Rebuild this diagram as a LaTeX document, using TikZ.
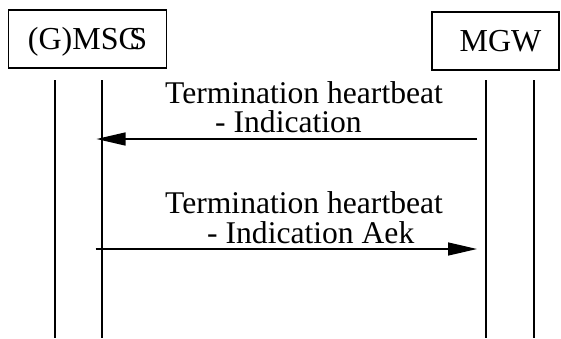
\documentclass[tikz,border=0pt]{standalone}
\usepackage{fontspec}
\setmainfont{Liberation Serif}
\usetikzlibrary{arrows.meta,positioning,calc}
\tikzset{
  entity/.style={draw,line width=1.6pt,inner sep=0pt,minimum height=58pt,
    text height=21pt,text depth=0pt,font=\fontsize{32}{32}\selectfont},
  lifeline/.style={line width=1.6pt},
  msg/.style={line width=1.4pt,-{Triangle[length=29pt,width=13pt]}},
  msgtext/.style={anchor=base west,inner sep=0pt,font=\fontsize{31.6}{31.6}\selectfont}
}
\begin{document}
\begin{tikzpicture}[x=1pt,y=-1pt]
\useasboundingbox (0,0) rectangle (561,338);
% entities
\node[entity,minimum width=158pt] (gmsc) at (87.6,39) {(G)MSC\kern-0.33em S};
\node[entity,minimum width=127pt] (mgw) at (495.5,41) {\kern10pt MGW};
% lifelines
\foreach \n/\x in {la/55,lb/102,ra/486,rb/534}{
  \coordinate (\n top) at (\x,80);
  \coordinate (\n bot) at (\x,338);
  \draw[lifeline] (\n top) -- (\n bot);
}
% messages
\coordinate (m1s) at (477,139);
\coordinate (m1e) at (96.5,139);
\draw[msg] (m1s) -- (m1e);
\node[msgtext] (m1a) at (165,103) {Termination heartbeat};
\node[msgtext] (m1b) at (215,132) {- Indication};
\coordinate (m2s) at (95.7,249);
\coordinate (m2e) at (477,249);
\draw[msg] (m2s) -- (m2e);
\node[msgtext] (m2a) at (165,213) {Termination heartbeat};
\node[msgtext] (m2b) at (207,243) {- Indication Aek};
\end{tikzpicture}
\end{document}
